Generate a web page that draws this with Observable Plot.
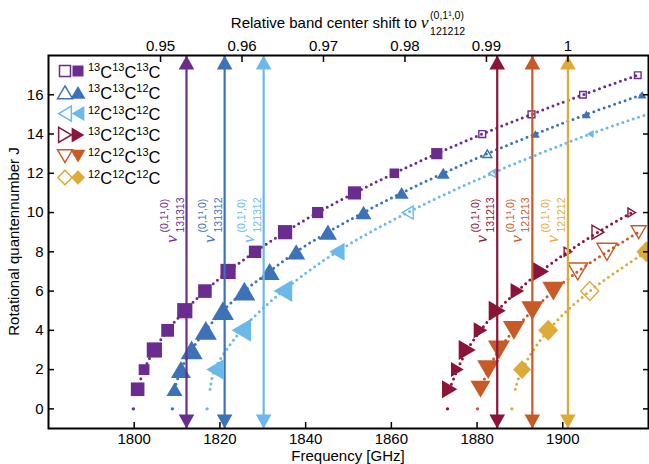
<!DOCTYPE html>
<html><head><meta charset="utf-8">
<script src="https://cdn.jsdelivr.net/npm/d3@7"></script>
<script src="https://cdn.jsdelivr.net/npm/@observablehq/plot@0.6"></script>
<style>body{margin:0;background:#fff}#chart{width:649px;height:464px}</style>
</head><body><div id="chart"></div>
<script>
// ---------- data ----------
const xTicks = [1800, 1820, 1840, 1860, 1880, 1900];
const yTicks = [0, 2, 4, 6, 8, 10, 12, 14, 16];
const relTicks = [0.95, 0.96, 0.97, 0.98, 0.99, 1];
const xDomain = [1780, 1920];
const yDomain = [-1, 18];

const species = ["131313", "131312", "121312", "131213", "121213", "121212"];
const colors = ["#6a2d8f", "#3d72b8", "#6bb8ea", "#8a1538", "#c85a28", "#ddac38"];
const shapes = ["square", "up", "left", "right", "down", "diamond"];
const legendIso = [["13","13","13"],["13","13","12"],["12","13","12"],["13","12","13"],["12","12","13"],["12","12","12"]];

// band centres nu^(0,1^1,0) [GHz]
const bandCenter = [1812.2, 1821.1, 1830.2, 1884.7, 1892.9, 1901.2];
const nuRef = 1901.2; // nu_121212
// J = 0 model points
const j0Freq = [1799.8, 1808.9, 1817.0, 1873.1, 1880.1, 1888.1];

// assigned lines: J, frequency, marker half-size, open (1) / filled (0)
const J_131313 = [1,2,3,4,5,6,7,8,9,10,11,12,13,14,15,16,17];
const f_131313 = [1800.8,1802.3,1804.7,1807.8,1811.8,1816.5,1821.9,1828.2,1835.2,1842.8,1851.4,1860.7,1870.6,1881.2,1892.7,1904.7,1917.5];
const r_131313 = [6.8,5.4,7.6,6.4,7.6,6.8,7.6,6.2,7.1,5.6,6.6,4.8,5.6,3.4,3.4,3.3,3.3];
const o_131313 = [0,0,0,0,0,0,0,0,0,0,0,0,0,1,1,1,1];

const J_131312 = [1,2,3,4,5,6,7,8,9,10,11,12,13,14,15,16];
const f_131312 = [1809.4,1810.9,1813.4,1816.7,1820.7,1825.7,1831.6,1837.8,1845.2,1853.5,1862.4,1872.1,1882.4,1893.6,1905.5,1918.5];
const r_131312 = [8,10,11,11,11,11,10,9,9,8,7,6.5,4.5,4.5,4.5,4.5];
const o_131312 = [0,0,0,0,0,0,0,0,0,0,0,0,1,0,0,0];

const J_121312 = [2,4,6,8,10,12,14];
const f_121312 = [1818.8,1825.0,1834.7,1847.3,1863.8,1883.5,1906.4];
const r_121312 = [10,11.5,11,9,6.5,4,4];
const o_121312 = [0,0,0,0,1,1,0];

const J_131213 = [1,2,3,4,5,6,7,8,9,10];
const f_131213 = [1873.6,1875.4,1877.7,1880.8,1884.7,1889.4,1894.8,1901.2,1908.2,1916.1];
const r_131213 = [9,7.5,10,8,10,8,10,4.5,7,4.5];
const o_131213 = [0,0,0,0,0,0,0,1,1,1];

const J_121213 = [1,2,3,4,5,6,7,8,9];
const f_121213 = [1880.8,1882.6,1885.1,1888.6,1892.9,1897.8,1903.5,1910.3,1917.7];
const r_121213 = [10,11,11,11,11,11,10,10,7.5];
const o_121213 = [0,0,0,0,0,0,1,1,1];

const J_121212 = [2,4,6,8];
const f_121212 = [1890.5,1896.6,1906.3,1919.5];
const r_121212 = [9,10,9,10];
const o_121212 = [0,0,1,0];

// model curves (dotted)
const mJ_121312 = [1,2,4,6,8,10,12,14,15];
const mF_121312 = [1817.7,1818.8,1825.0,1834.7,1847.3,1863.8,1883.5,1906.4,1919.6];
const mJ_121212 = [1,2,4,6,8];
const mF_121212 = [1888.9,1890.5,1896.6,1906.3,1919.5];

// ---------- build ----------
const rows = (J, f, r, o) => J.map((j, i) => ({J: j, f: f[i], r: r ? r[i] : 0, open: o ? o[i] : 0}));
const series = [
  {pts: rows(J_131313, f_131313, r_131313, o_131313), model: rows(J_131313, f_131313)},
  {pts: rows(J_131312, f_131312, r_131312, o_131312), model: rows(J_131312, f_131312)},
  {pts: rows(J_121312, f_121312, r_121312, o_121312), model: rows(mJ_121312, mF_121312)},
  {pts: rows(J_131213, f_131213, r_131213, o_131213), model: rows(J_131213, f_131213)},
  {pts: rows(J_121213, f_121213, r_121213, o_121213), model: rows(J_121213, f_121213)},
  {pts: rows(J_121212, f_121212, r_121212, o_121212), model: rows(mJ_121212, mF_121212)}
];

const S = (fn) => ({draw(c, size) { fn(c, Math.sqrt(size / Math.PI)); }});
const sym = {
  square: S((c, r) => { c.moveTo(-r,-r); c.lineTo(r,-r); c.lineTo(r,r); c.lineTo(-r,r); c.closePath(); }),
  up: S((c, r) => { const h = 0.85*r; c.moveTo(0,-h); c.lineTo(r,h); c.lineTo(-r,h); c.closePath(); }),
  down: S((c, r) => { const h = 0.85*r; c.moveTo(0,h); c.lineTo(r,-h); c.lineTo(-r,-h); c.closePath(); }),
  left: S((c, r) => { const h = 0.85*r; c.moveTo(-h,0); c.lineTo(h,-r); c.lineTo(h,r); c.closePath(); }),
  right: S((c, r) => { const h = 0.85*r; c.moveTo(h,0); c.lineTo(-h,-r); c.lineTo(-h,r); c.closePath(); }),
  diamond: S((c, r) => { c.moveTo(0,-1.05*r); c.lineTo(r,0); c.lineTo(0,1.05*r); c.lineTo(-r,0); c.closePath(); })
};
const headUp = {draw(c) { c.moveTo(0,0); c.lineTo(7.8,14); c.lineTo(-7.8,14); c.closePath(); }};
const headDown = {draw(c) { c.moveTo(0,0); c.lineTo(7.8,-14); c.lineTo(-7.8,-14); c.closePath(); }};

const marks = [];
series.forEach((s, k) => {
  marks.push(Plot.line(s.model, {x: "f", y: "J", stroke: colors[k], strokeWidth: 3,
    strokeDasharray: "0 5.5", strokeLinecap: "round", curve: "catmull-rom", clip: true}));
});
marks.push(Plot.dot(j0Freq.map((f, k) => ({f, J: 0, k})), {x: "f", y: "J", r: 1.7, fill: d => colors[d.k], stroke: "none"}));
series.forEach((s, k) => {
  marks.push(Plot.dot(s.pts.filter(d => !d.open), {x: "f", y: "J", r: "r", symbol: sym[shapes[k]], fill: colors[k], stroke: "none", clip: true}));
  marks.push(Plot.dot(s.pts.filter(d => d.open), {x: "f", y: "J", r: "r", symbol: sym[shapes[k]], fill: "none", stroke: colors[k], strokeWidth: 1.4, clip: true}));
});
bandCenter.forEach((f, k) => {
  marks.push(Plot.ruleX([f], {stroke: colors[k], strokeWidth: 2.2}));
  marks.push(Plot.dot([f], {x: d => d, y: () => yDomain[1], r: 5, symbol: headUp, fill: colors[k], stroke: "none"}));
  marks.push(Plot.dot([f], {x: d => d, y: () => yDomain[0], r: 5, symbol: headDown, fill: colors[k], stroke: "none"}));
});
marks.push(
  Plot.axisX(xTicks, {anchor: "bottom", tickSize: -6, tickPadding: 11, strokeWidth: 1.5, label: null, tickFormat: d => String(d)}),
  Plot.axisX(relTicks.map(r => r * nuRef), {anchor: "top", tickSize: -6, tickPadding: 11, strokeWidth: 1.5, label: null,
    tickFormat: d => String(+(d / nuRef).toFixed(2))}),
  Plot.axisY(yTicks, {anchor: "left", tickSize: -6, tickPadding: 11, strokeWidth: 1.5, label: null}),
  Plot.axisY(yTicks, {anchor: "right", tickSize: -6, strokeWidth: 1.5, label: null, tickFormat: () => ""}),
  Plot.frame({stroke: "black", strokeWidth: 2})
);

const plot = Plot.plot({
  width: 649, height: 464,
  marginLeft: 48, marginRight: 1, marginTop: 55, marginBottom: 36,
  x: {domain: xDomain},
  y: {domain: yDomain},
  r: {type: "linear", domain: [0, 20], range: [0, 20]},
  style: {fontFamily: "'Liberation Sans', Arial, sans-serif", fontSize: "15px", background: "white", color: "black", overflow: "visible"},
  marks
});
document.getElementById("chart").appendChild(plot);

// ---------- annotations ----------
const svg = d3.select(plot);
const ann = svg.append("g").attr("text-anchor", "start");
const sx = plot.scale("x");
const X = v => sx.apply(v);
const serif = "'Liberation Serif', 'DejaVu Serif', serif";
const cx = (48 + 648) / 2;

// arrow labels
bandCenter.forEach((f, k) => {
  const g = ann.append("g").attr("transform", `translate(${X(f) - 9.5},243) rotate(-90)`).attr("fill", colors[k]);
  g.append("text").attr("font-family", serif).attr("font-style", "italic").attr("font-size", 17.5).text("ν");
  g.append("text").attr("x", 10.5).attr("y", -8.5).attr("font-size", 10.5).text("(0,1¹,0)");
  g.append("text").attr("x", 10.5).attr("y", 7).attr("font-size", 10.5).text(species[k]);
});

// top title
{
  const g = ann.append("g");
  const t1 = g.append("text").attr("y", 28).attr("font-size", 15).text("Relative band center shift to");
  const w1 = t1.node().getComputedTextLength() + 4;
  const t2 = g.append("text").attr("x", w1).attr("y", 28).attr("font-family", serif).attr("font-style", "italic").attr("font-size", 17.5).text("ν");
  const w2 = t2.node().getComputedTextLength();
  const t3 = g.append("text").attr("x", w1 + w2 + 1.5).attr("y", 19).attr("font-size", 10.5).text("(0,1¹,0)");
  const t4 = g.append("text").attr("x", w1 + w2 + 1.5).attr("y", 35).attr("font-size", 10.5).text(species[5]);
  const w = w1 + w2 + 1.5 + Math.max(t3.node().getComputedTextLength(), t4.node().getComputedTextLength());
  g.attr("transform", `translate(${cx - w / 2},0)`);
}

// axis titles
ann.append("text").attr("x", cx).attr("y", 461).attr("text-anchor", "middle").attr("font-size", 15).text("Frequency [GHz]");
ann.append("text").attr("transform", `translate(19,241.5) rotate(-90)`).attr("text-anchor", "middle").attr("font-size", 15).text("Rotational quantennumber J");

// legend
legendIso.forEach((iso, k) => {
  const y = 71 + k * 21.3;
  const lr = shapes[k] === "square" ? 5.5 : shapes[k] === "diamond" ? 7 : 7.5;
  const p = d3.symbol().type(sym[shapes[k]]).size(Math.PI * lr * lr)();
  ann.append("path").attr("d", p).attr("transform", `translate(65,${y})`).attr("fill", "none").attr("stroke", colors[k]).attr("stroke-width", 1.5);
  ann.append("path").attr("d", p).attr("transform", `translate(78,${y})`).attr("fill", colors[k]);
  const t = ann.append("text").attr("x", 88).attr("y", y + 6.5);
  iso.forEach(m => {
    t.append("tspan").attr("font-size", 11).attr("dy", -6.5).text(m);
    t.append("tspan").attr("font-size", 16.5).attr("dy", 6.5).text("C");
  });
});
</script></body></html>
